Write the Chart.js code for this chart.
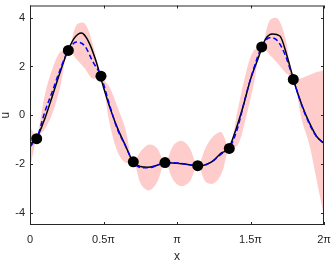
<!DOCTYPE html>
<html>
<head>
<meta charset="utf-8">
<script src="https://cdn.jsdelivr.net/npm/chart.js@4.4.1/dist/chart.umd.min.js"></script>
<style>
  body { margin: 0; background: #fff; }
  #box { width: 332px; height: 261px; }
</style>
</head>
<body>
<div id="box"><canvas id="gp"></canvas></div>
<script>
// true solution, sampled every pi/20
const trueU = [
  -1.2, -0.88, -0.15, 0.75, 1.68, 2.53, 3.15, 3.37, 3.0, 2.2,
  1.15, 0.2, -0.6, -1.25, -1.9, -2.1, -2.13, -2.08, -1.98, -1.95,
  -1.97, -2.0, -2.05, -2.07, -2.02, -1.85, -1.55, -1.38, -0.6, 0.37,
  1.47, 2.3, 3.1, 3.33, 3.25, 2.4, 1.3, 0.41, -0.3, -0.87, -1.15
];
const trueX = trueU.map((_, i) => i * Math.PI / 20);

// GP mean and band
const bandX = [
  0, 0.073, 0.143, 0.312, 0.481, 0.650, 0.819, 0.994, 1.167, 1.342,
  1.517, 1.688, 1.864, 2.037, 2.208, 2.377, 2.548, 2.717, 2.885, 3.060,
  3.235, 3.409, 3.584, 3.753, 3.922, 4.091, 4.259, 4.432, 4.606, 4.779,
  4.952, 5.121, 5.290, 5.458, 5.627, 5.813, 5.969, 6.126, 6.283
];
const meanU = [
  -1.3, -1.12, -0.96, 0.11, 1.0, 1.9, 2.66, 3.0, 2.85, 2.2,
  1.6, 0.5, -0.55, -1.25, -1.91, -2.15, -2.15, -2.05, -1.94, -1.95,
  -1.98, -2.03, -2.07, -2.03, -1.85, -1.58, -1.36, -0.55, 0.75, 1.9,
  2.8, 3.18, 3.05, 2.45, 1.47, 0.38, -0.35, -0.88, -1.15
];
const upperU = [
  -0.47, -0.72, -0.96, 0.8, 1.92, 2.6, 2.66, 3.7, 3.77, 2.9,
  1.6, 1.2, 0.37, -0.55, -1.91, -1.45, -1.2, -1.35, -1.94, -1.25,
  -1.05, -1.33, -2.07, -1.33, -0.85, -0.7, -1.36, 0.15, 1.67, 2.65,
  2.8, 3.88, 3.97, 3.15, 1.47, 1.53, 1.65, 1.77, 1.85
];
const lowerU = [
  -2.13, -1.52, -0.96, -0.58, 0.08, 1.2, 2.66, 2.3, 1.93, 1.5,
  1.6, -0.2, -1.47, -1.95, -1.91, -2.85, -3.08, -2.75, -1.94, -2.65,
  -2.91, -2.73, -2.07, -2.73, -2.8, -2.4, -1.36, -1.25, -0.17, 1.25,
  2.8, 2.48, 2.13, 1.75, 1.47, -0.23, -1.2, -2.67, -4.15
];

// training points
const obsX = [0.143, 0.819, 1.517, 2.208, 2.885, 3.584, 4.259, 4.952, 5.627];
const obsU = [-0.96, 2.66, 1.6, -1.91, -1.94, -2.07, -1.36, 2.8, 1.47];

const xTickValues = [0, 0.5 * Math.PI, Math.PI, 1.5 * Math.PI, 2 * Math.PI];
const xTickLabels = ['0', '0.5π', 'π', '1.5π', '2π'];
const yTickValues = [-4, -2, 0, 2, 4];

const INK = '#262626';
const FONT = 'Liberation Sans, Arial, sans-serif';

const pts = (xs, ys) => xs.map((x, i) => ({ x, y: ys[i] }));

// box + inward ticks like matlab
const frame = {
  id: 'frame',
  afterDraw(chart) {
    const { ctx, chartArea: a, scales } = chart;
    ctx.save();
    ctx.strokeStyle = INK;
    ctx.lineWidth = 1;
    ctx.strokeRect(a.left + 0.5, a.top + 0.5, a.right - a.left - 1, a.bottom - a.top - 1);
    ctx.beginPath();
    scales.x.ticks.forEach(t => {
      const px = Math.round(scales.x.getPixelForValue(t.value)) + 0.5;
      ctx.moveTo(px, a.bottom); ctx.lineTo(px, a.bottom - 3);
      ctx.moveTo(px, a.top);    ctx.lineTo(px, a.top + 3);
    });
    scales.y.ticks.forEach(t => {
      const py = Math.round(scales.y.getPixelForValue(t.value)) + 0.5;
      ctx.moveTo(a.left, py);  ctx.lineTo(a.left + 3, py);
      ctx.moveTo(a.right, py); ctx.lineTo(a.right - 3, py);
    });
    ctx.stroke();
    ctx.restore();
  }
};

new Chart(document.getElementById('gp'), {
  type: 'line',
  data: {
    datasets: [
      {
        data: pts(obsX, obsU), showLine: false, order: 0,
        pointRadius: 5.5, pointBackgroundColor: '#000', pointBorderWidth: 0
      },
      {
        data: pts(bandX, meanU), order: 1,
        borderColor: '#0000ff', borderWidth: 1.5, borderDash: [5, 3],
        pointRadius: 0, cubicInterpolationMode: 'monotone'
      },
      {
        data: pts(trueX, trueU), order: 2,
        borderColor: '#000', borderWidth: 1.5,
        pointRadius: 0, cubicInterpolationMode: 'monotone'
      },
      {
        data: pts(bandX, upperU), order: 3, fill: '+1',
        backgroundColor: '#ffcccc', borderWidth: 0, borderColor: 'rgba(0,0,0,0)',
        pointRadius: 0, tension: 0.35
      },
      {
        data: pts(bandX, lowerU), order: 4,
        borderWidth: 0, borderColor: 'rgba(0,0,0,0)',
        pointRadius: 0, tension: 0.35
      }
    ]
  },
  options: {
    responsive: true,
    maintainAspectRatio: false,
    animation: false,
    events: [],
    layout: { padding: { top: 1, right: 8, left: 0, bottom: 0 } },
    plugins: { legend: { display: false }, tooltip: { enabled: false } },
    scales: {
      x: {
        type: 'linear', min: 0, max: 2 * Math.PI,
        grid: { display: false, drawTicks: false }, border: { display: false },
        afterBuildTicks: s => { s.ticks = xTickValues.map(v => ({ value: v })); },
        afterFit: s => { s.height = 36; s.paddingLeft = 0; s.paddingRight = 0; },
        ticks: {
          autoSkip: false, maxRotation: 0, padding: 8, color: INK,
          font: { family: FONT, size: 11 },
          callback: (v, i) => xTickLabels[i]
        },
        title: {
          display: true, text: 'x', color: INK, padding: { top: 0, bottom: -2 },
          font: { family: FONT, size: 12, lineHeight: 1 }
        }
      },
      y: {
        min: -4.5, max: 4.5,
        grid: { display: false, drawTicks: false }, border: { display: false },
        afterBuildTicks: s => { s.ticks = yTickValues.map(v => ({ value: v })); },
        afterFit: s => { s.width = 30; s.paddingTop = 0; s.paddingBottom = 0; },
        ticks: { padding: 5, color: INK, font: { family: FONT, size: 11 } },
        title: { display: true, text: 'u', color: INK, padding: 0, font: { family: FONT, size: 12, lineHeight: 1 } }
      }
    }
  },
  plugins: [frame]
});
</script>
</body>
</html>
